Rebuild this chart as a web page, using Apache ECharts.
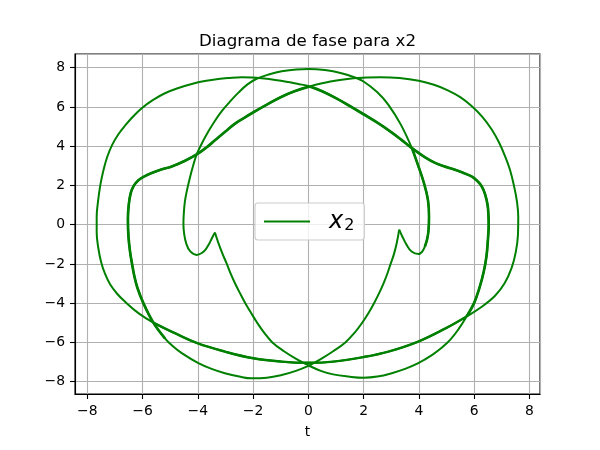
<!DOCTYPE html>
<html><head><meta charset="utf-8">
<script src="https://cdn.jsdelivr.net/npm/echarts@6/dist/echarts.min.js"></script>
<style>html,body{margin:0;padding:0;background:#fff}#c{width:600px;height:450px}</style>
</head><body><div id="c"></div>
<script>
// ---- data: [x, y] points of the phase curve, in drawing order ----
// left cusp line, from the left cusp down to the lower crossing
const segCuspLeftDown = [[-3.38,-0.40],[-3.25,-0.95],[-3.1,-1.5],[-2.95,-2.0],[-2.81,-2.5],[-2.65,-3.0],[-2.47,-3.5],[-2.28,-4.0],[-2.07,-4.5],[-1.85,-5.0],[-1.6,-5.5],[-1.3,-6.0],[-0.88,-6.45],[-0.44,-6.84],[0.02,-7.18]];
// lower right arc, up to the inner right branch
const segLowerRight = [[0.45,-7.45],[0.9,-7.63],[1.45,-7.74],[2.0,-7.8],[2.5,-7.74],[3.02,-7.57],[3.5,-7.35],[3.98,-7.06],[4.5,-6.62],[4.85,-6.25],[5.15,-5.85],[5.45,-5.3],[5.73,-4.68],[6.0,-4.0],[6.2,-3.2],[6.35,-2.4],[6.45,-1.6],[6.5,-0.8],[6.53,0]];
// inner right branch with its shoulder, up to the upper crossing
const segInnerRight = [[6.52,0.5],[6.49,1.0],[6.4,1.55],[6.28,1.95],[6.1,2.25],[5.91,2.46],[5.6,2.65],[5.31,2.80],[4.95,2.96],[4.59,3.15],[4.2,3.46],[3.75,3.9],[3.35,4.35],[3.0,4.72],[2.5,5.2],[2.0,5.63],[1.5,6.05],[1.0,6.45],[0.5,6.8],[0.05,7.05]];
// outer left arc, from the upper crossing round to the lower left crossing
const segOuterLeft = [[-0.4,7.18],[-0.72,7.27],[-1.2,7.38],[-1.69,7.46],[-2.05,7.5],[-2.41,7.51],[-2.85,7.48],[-3.26,7.43],[-3.75,7.32],[-4.22,7.17],[-4.7,6.97],[-5.19,6.7],[-5.63,6.35],[-6.03,5.94],[-6.35,5.5],[-6.62,5.07],[-6.88,4.6],[-7.1,4.07],[-7.28,3.45],[-7.42,2.75],[-7.53,2.0],[-7.61,1.2],[-7.66,0.4],[-7.66,-0.4],[-7.6,-1.2],[-7.5,-1.9],[-7.36,-2.5],[-7.17,-3.05],[-6.92,-3.52],[-6.64,-3.92],[-6.15,-4.51],[-5.61,-4.99]];
// shallow bottom arc, lower left crossing to lower right crossing
const segBottomShallow = [[-4.83,-5.53],[-4.02,-6.04],[-3.02,-6.47],[-1.99,-6.81],[-0.96,-6.98],[0.02,-7.04],[0.9,-6.98],[1.99,-6.75],[2.9,-6.47],[3.98,-5.96],[4.95,-5.3],[5.73,-4.68]];
// outer right arc, from the lower right crossing back to the upper crossing
const segOuterRight = [[6.28,-4.18],[6.76,-3.62],[7.1,-3.0],[7.36,-2.2],[7.51,-1.4],[7.59,-0.5],[7.6,0.4],[7.55,1.2],[7.45,1.95],[7.3,2.8],[7.12,3.5],[6.9,4.2],[6.64,4.85],[6.3,5.5],[5.91,6.05],[5.5,6.5],[5.05,6.85],[4.55,7.13],[4.0,7.34],[3.3,7.48],[2.6,7.52],[2.1,7.5],[1.63,7.46],[0.8,7.3],[0.05,7.05]];
// inner left branch with its shoulder, then lower left arc to the lower crossing
const segInnerLeft = [[-0.5,6.8],[-1.0,6.5],[-1.5,6.12],[-2.0,5.72],[-2.35,5.42],[-2.65,5.15],[-3.0,4.75],[-3.38,4.3],[-3.7,3.92],[-4.04,3.58],[-4.46,3.26],[-4.94,2.97],[-5.35,2.8],[-5.67,2.63],[-5.95,2.45],[-6.15,2.27],[-6.32,1.98],[-6.43,1.6],[-6.5,1.0],[-6.53,0.3],[-6.51,-0.6],[-6.45,-1.4],[-6.38,-2.0],[-6.3,-2.6],[-6.19,-3.2],[-5.97,-4.0],[-5.61,-4.99],[-5.19,-5.79],[-4.9,-6.2],[-4.58,-6.55],[-3.98,-7.06],[-3.5,-7.35],[-3.02,-7.57],[-2.5,-7.74],[-2.05,-7.83],[-1.5,-7.8],[-0.96,-7.66],[-0.45,-7.45],[0.02,-7.18]];
// right cusp line, from the lower crossing up to the right cusp
const segCuspRightUp = [[0.45,-6.85],[0.9,-6.45],[1.34,-6.0],[1.68,-5.5],[1.95,-5.0],[2.18,-4.5],[2.38,-4.0],[2.56,-3.5],[2.72,-3.0],[2.86,-2.5],[2.98,-2.0],[3.1,-1.5],[3.2,-0.95],[3.29,-0.25]];
// right cusp, right dip, tall inner arch over the top, left dip, back to the left cusp
const segTallArch = [[3.29,-0.25],[3.42,-0.65],[3.56,-1.03],[3.74,-1.37],[3.98,-1.50],[4.12,-1.38],[4.22,-1.11],[4.3,-0.75],[4.35,-0.3],[4.37,0.42],[4.33,1.27],[4.18,2.15],[3.98,3.0],[3.75,3.9],[3.35,5.1],[2.9,6.11],[2.5,6.75],[2.0,7.3],[1.69,7.5],[1.2,7.72],[0.6,7.88],[0.0,7.94],[-0.5,7.9],[-0.96,7.82],[-1.4,7.67],[-1.87,7.44],[-2.2,7.15],[-2.53,6.73],[-2.85,6.25],[-3.14,5.77],[-3.4,5.25],[-3.62,4.75],[-3.85,4.15],[-4.04,3.58],[-4.18,2.95],[-4.29,2.37],[-4.4,1.7],[-4.47,1.15],[-4.51,0.5],[-4.52,0],[-4.49,-0.5],[-4.42,-0.95],[-4.28,-1.35],[-4.04,-1.54],[-3.85,-1.44],[-3.72,-1.27],[-3.6,-1.0],[-3.49,-0.69],[-3.38,-0.40]];

const titleText = 'Diagrama de fase para x2';
const xName = 't';
const seriesName = 'x2';
const xRange = [-8.445, 8.387];
const yRange = [-8.63, 8.70];

// the closed curve, broken at the two cusps
const pathOne = [].concat(segCuspLeftDown, segLowerRight, segInnerRight, segOuterLeft, segBottomShallow, segOuterRight, segInnerLeft, segCuspRightUp);
const pathTwo = segTallArch;

// parts of the curve that the reference shows heavier (traced twice, nearly on top of each other)
const idx = (arr, p) => arr.findIndex(q => q[0] === p[0] && q[1] === p[1]);
const heavyRight = segLowerRight.slice(idx(segLowerRight, [5.73,-4.68])).concat(segInnerRight);
const heavyLeft = [[0.05,7.05]].concat(segInnerLeft.slice(0, idx(segInnerLeft, [-5.19,-5.79]) + 1));
const heavyBottom = [[-5.61,-4.99]].concat(segBottomShallow);
const heavyLeg = segTallArch.slice(idx(segTallArch, [4.22,-1.11]), idx(segTallArch, [3.75,3.9]) + 1);

const FONT = 'DejaVu Sans';
const GREEN = '#008000';
const minus = v => String(v).replace('-', '\u2212');

const chart = echarts.init(document.getElementById('c'), null, {renderer: 'canvas'});
const axisCommon = {
  type: 'value', splitNumber: 8,
  axisLine: {show: true, onZero: false, lineStyle: {color: '#000', width: 1.1}},
  axisTick: {show: true, inside: false, length: 5, lineStyle: {color: '#000', width: 1.1}},
  axisLabel: {margin: 10, formatter: minus, showMinLabel: false, showMaxLabel: false, color: '#000', fontFamily: FONT, fontSize: 13.9},
  splitLine: {show: true, lineStyle: {color: '#b0b0b0', width: 1.1}}
};
const lineSeries = (data, width) => ({name: seriesName, type: 'line', data: data, showSymbol: false, symbol: 'none',
  smooth: 0.4, lineStyle: {color: GREEN, width: width}, itemStyle: {color: GREEN}, clip: true, silent: true});
chart.setOption({
  animation: false,
  backgroundColor: '#fff',
  title: {text: titleText, left: 199, top: 28, padding: [5, 0, 5, 0],
    textStyle: {fontFamily: FONT, fontSize: 16.67, fontWeight: 'normal', color: '#000'}},
  grid: {left: 75, right: 60, top: 54, bottom: 56, show: true, borderColor: '#000', borderWidth: 1.1},
  xAxis: Object.assign({}, axisCommon, {min: xRange[0], max: xRange[1], name: xName, nameLocation: 'middle', nameGap: 31,
    nameTextStyle: {fontFamily: FONT, fontSize: 13.9, color: '#000'}}),
  yAxis: Object.assign({}, axisCommon, {min: yRange[0], max: yRange[1]}),
  legend: {left: 255, top: 203, padding: [6, 10, 6, 9], itemWidth: 46, itemHeight: 2, itemGap: 0, icon: 'rect',
    backgroundColor: 'rgba(255,255,255,0.8)', borderColor: '#cccccc', borderWidth: 1.1, borderRadius: 3,
    data: [seriesName], itemStyle: {color: GREEN},
    formatter: () => '{sp|}{x|x}{s|2}',
    textStyle: {rich: {
      sp: {width: 14},
      x: {fontFamily: FONT, fontStyle: 'italic', fontSize: 24, color: '#000', lineHeight: 30},
      s: {fontFamily: FONT, fontSize: 16, color: '#000', padding: [9, 0, 0, 1], lineHeight: 20}
    }}},
  series: [
    lineSeries(pathOne, 2), lineSeries(pathTwo, 2),
    lineSeries(heavyRight, 2.7), lineSeries(heavyLeft, 2.7), lineSeries(heavyBottom, 2.5), lineSeries(heavyLeg, 2.6)
  ]
});
</script></body></html>
